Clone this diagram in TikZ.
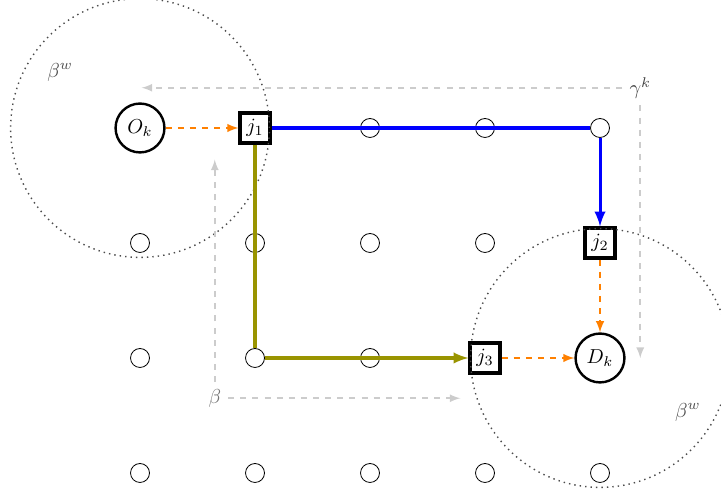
\documentclass[tikz,border=0pt]{standalone}
\usepackage{amsmath}
\usepackage{amssymb}
\definecolor{olivepath}{RGB}{153,148,0}

\begin{document}
\begin{tikzpicture}
\tikzstyle{pt}=[circle,draw,minimum size=0.33cm,inner sep=0pt]
\tikzstyle{od}=[circle,draw,line width=1.2pt,minimum size=0.85cm,inner sep=1pt]
\tikzstyle{hub}=[rectangle,draw,line width=1.6pt,minimum size=0.52cm,inner sep=1pt]
\tikzstyle{ax}=[black!20,dashed,thick,-latex]
\tikzstyle{route}=[line width=1.5pt]
\tikzstyle{walk}=[orange,dashed,line width=0.9pt,-latex]
\useasboundingbox (-2.435,-0.330) rectangle (10.104,8.226);
% grid of stops
\node[od] (o) at (0,6) {$O_k$};
\node[hub] (j1) at (2,6) {$j_1$};
\node[pt] (a) at (4,6) {};
\node[pt] (b) at (6,6) {};
\node[pt] (c) at (8,6) {};
\node[pt] (d) at (0,4) {};
\node[pt] (e) at (2,4) {};
\node[pt] (f) at (4,4) {};
\node[pt] (g) at (6,4) {};
\node[hub] (j2) at (8,4) {$j_2$};
\node[pt] (h) at (0,2) {};
\node[pt] (i) at (2,2) {};
\node[pt] (l) at (4,2) {};
\node[hub] (j3) at (6,2) {$j_3$};
\node[od] (dk) at (8,2) {$D_k$};
\node[pt] (m) at (0,0) {};
\node[pt] (n) at (2,0) {};
\node[pt] (p) at (4,0) {};
\node[pt] (q) at (6,0) {};
\node[pt] (r) at (8,0) {};
% walking zones
\draw [dotted,black!70,line width=0.7pt] (o) circle (2.25);
\draw [dotted,black!70,line width=0.7pt] (dk) circle (2.25);
\node[black!70] (bw1) at (-1.39,6.97) {$\beta^w$};
\node[black!70] (bw2) at (9.53,1.06) {$\beta^w$};
% axes
\node[black!75] (gk) at (8.7,6.7) {$\gamma^k$};
\coordinate (gkl) at (0.03,6.7);
\coordinate (gkd) at (8.7,2.0);
\draw [ax] (gk) -- (gkl);
\draw [ax] (gk) -- (gkd);
\node[black!55] (bt) at (1.3,1.3) {$\beta$};
\coordinate (btu) at (1.3,5.45);
\coordinate (btr) at (5.57,1.3);
\draw [ax] (bt) -- (btu);
\draw [ax] (bt) -- (btr);
% routes
\draw [route,blue] (j1) -- (c);
\draw [route,blue,-latex] (c) -- (j2);
\draw [route,olivepath] (j1) -- (i);
\draw [route,olivepath,-latex] (i) -- (j3);
\draw [walk] (o) -- (j1);
\draw [walk] (j2) -- (dk);
\draw [walk] (j3) -- (dk);
\end{tikzpicture}
\end{document}
